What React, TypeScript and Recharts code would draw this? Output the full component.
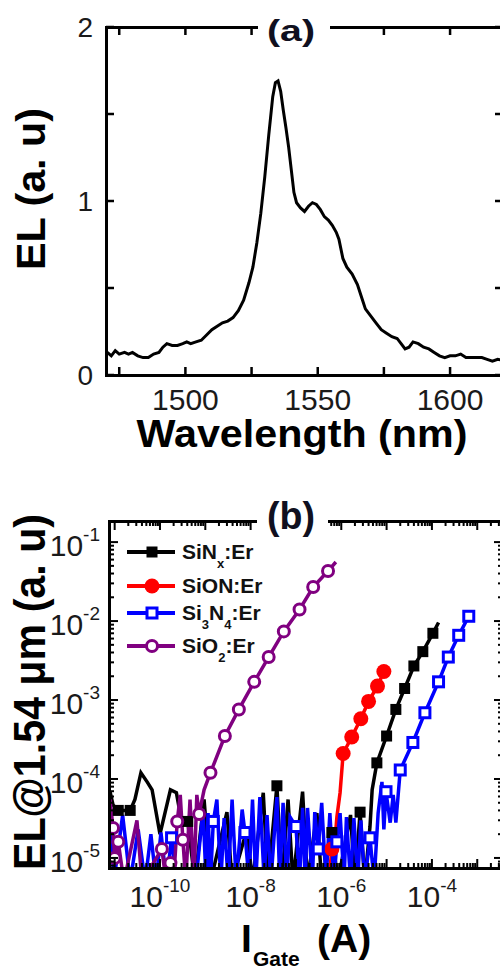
import React from 'react';
import { LineChart, Line, XAxis, YAxis, Legend } from 'recharts';

const FONT = "'Liberation Sans', Arial, Helvetica, sans-serif";
const INK = '#000';
const TICK_INK = '#1a1a1a';

// ---------- panel (a): EL spectrum ----------
const wavelengthNm = [
  1470.5, 1472, 1473.5, 1475, 1477, 1478.5, 1480, 1482, 1484, 1486, 1488, 1490, 1491.5, 1493, 1495, 1497, 1499,
  1500.5, 1502, 1504, 1506, 1508, 1510, 1512, 1514, 1516, 1518, 1520, 1522, 1524, 1525.5, 1527, 1528.5, 1530,
  1531.5, 1533, 1534, 1535, 1536, 1537, 1538, 1539, 1540, 1541, 1542, 1543.5, 1545, 1546.5, 1548, 1549.5, 1551,
  1552.5, 1554, 1555.5, 1557, 1558, 1559.5, 1561, 1563, 1565, 1566.5, 1568, 1570, 1572, 1574, 1576, 1578, 1580,
  1581.5, 1583, 1584.5, 1586, 1588, 1590, 1592, 1594, 1596, 1598, 1600, 1602, 1604, 1606, 1608, 1610, 1612, 1614,
  1616, 1618, 1620,
];
const elIntensity = [
  0.13, 0.11, 0.14, 0.12, 0.13, 0.12, 0.13, 0.11, 0.1, 0.1, 0.12, 0.13, 0.16, 0.18, 0.17, 0.17, 0.18,
  0.19, 0.18, 0.19, 0.2, 0.23, 0.26, 0.28, 0.3, 0.31, 0.33, 0.37, 0.43, 0.53, 0.62, 0.76, 0.93, 1.14,
  1.38, 1.6, 1.68, 1.69, 1.63, 1.52, 1.42, 1.31, 1.18, 1.05, 0.99, 0.96, 0.94, 0.97, 0.99, 0.98, 0.95,
  0.91, 0.89, 0.86, 0.82, 0.78, 0.67, 0.62, 0.58, 0.52, 0.45, 0.38, 0.34, 0.3, 0.26, 0.24, 0.22, 0.21,
  0.18, 0.15, 0.16, 0.19, 0.18, 0.16, 0.15, 0.13, 0.11, 0.1, 0.11, 0.11, 0.12, 0.1, 0.1, 0.1, 0.1, 0.09,
  0.08, 0.09, 0.085,
];
const specDomainX = [1470, 1620];
const specDomainY = [0, 2];
const specTicksX = [1475, 1500, 1525, 1550, 1575, 1600];
const specLabelsX = [1500, 1550, 1600];
const specTicksY = [0, 0.5, 1, 1.5, 2];
const specLabelsY = [0, 1, 2];

// ---------- panel (b): EL @ 1.54 um vs gate current ----------
type Pt = [number, number]; // [I_gate (A), EL (a.u.)]

const sinxMarks: Pt[] = [
  [1.2e-11, 4.0e-5], [2.2e-11, 4.0e-5], [4.1e-10, 2.9e-5], [3.8e-8, 8.2e-5], [6.2e-7, 2.1e-5], [2.6e-6, 3.8e-5],
  [6.1e-6, 1.6e-4], [1.0e-5, 3.5e-4], [1.6e-5, 7.6e-4], [2.5e-5, 1.4e-3], [4.0e-5, 2.7e-3], [6.3e-5, 4.1e-3],
  [1.05e-4, 7.0e-3],
];
const sinxNoise: Pt[] = [
  [7.9e-12, 6.9e-5], [9.2e-12, 4.7e-5], [2.8e-11, 5.5e-5], [3.8e-11, 1.2e-4], [5.2e-11, 9.2e-5], [6.7e-11, 7.3e-5],
  [1.0e-10, 2.0e-5], [1.7e-10, 7.3e-5], [2.3e-10, 6.7e-5], [3.1e-10, 2.6e-5], [5.9e-10, 5e-6], [9.4e-10, 5.5e-5],
  [1.3e-9, 5e-6], [3.0e-9, 3.8e-5], [3.9e-9, 5e-6], [8.3e-9, 2.3e-5], [1.1e-8, 5e-6], [1.9e-8, 6.7e-5],
  [2.4e-8, 5e-6], [4.9e-8, 5e-6], [6.7e-8, 5.5e-5], [8.6e-8, 5e-6], [1.4e-7, 6.9e-5], [1.8e-7, 5e-6],
  [2.9e-7, 3.7e-5], [3.7e-7, 5e-6], [8.4e-7, 5e-6], [1.6e-6, 3.5e-5], [2.0e-6, 5e-6], [3.3e-6, 5e-6],
  [4.3e-6, 2.5e-5], [4.8e-6, 7.3e-5], [1.4e-4, 9.6e-3],
];

const sionMarks: Pt[] = [
  [6.2e-7, 1.3e-5], [1.1e-6, 2.1e-4], [1.7e-6, 3.4e-4], [2.7e-6, 5.8e-4], [4.0e-6, 9.6e-4], [6.3e-6, 1.5e-3],
  [8.7e-6, 2.3e-3],
];
const sionNoise: Pt[] = [[5.3e-7, 5e-6], [7.2e-7, 1.55e-5], [8.0e-7, 3.3e-5], [9.4e-7, 6.7e-5]];

const si3n4Marks: Pt[] = [
  [1.8e-10, 1.8e-5], [1.5e-9, 2.9e-5], [7.5e-9, 2.1e-5], [1.0e-7, 2.5e-5], [3.1e-7, 1.3e-5], [8.0e-7, 1.6e-5],
  [4.3e-6, 1.8e-5], [9.7e-6, 6.9e-5], [2.0e-5, 1.3e-4], [3.8e-5, 2.9e-4], [7.0e-5, 6.9e-4], [1.4e-4, 1.7e-3],
  [2.3e-4, 3.5e-3], [3.9e-4, 6.6e-3], [6.5e-4, 1.15e-2],
];
const si3n4Noise: Pt[] = [
  [7.9e-12, 5.0e-5], [9.6e-12, 5e-6], [1.5e-11, 3.5e-5], [2.2e-11, 5e-6], [3.3e-11, 2.3e-5], [4.7e-11, 5e-6],
  [6.3e-11, 2.0e-5], [8.2e-11, 5e-6], [1.05e-10, 2.1e-5], [1.4e-10, 5e-6], [2.3e-10, 5e-6], [6.2e-10, 5e-6],
  [8.9e-10, 4.1e-5], [1.04e-9, 5e-6], [1.15e-9, 3.7e-5], [1.3e-9, 5e-6], [1.8e-9, 5.5e-5], [2.2e-9, 5e-6],
  [2.6e-9, 3.2e-5], [3.2e-9, 5e-6], [3.9e-9, 5.5e-5], [4.8e-9, 5e-6], [6.5e-9, 4.1e-5], [9.2e-9, 5e-6],
  [1.1e-8, 5.5e-5], [1.3e-8, 5e-6], [1.6e-8, 5.9e-5], [2.0e-8, 5e-6], [2.3e-8, 3.5e-5], [2.8e-8, 5e-6],
  [3.8e-8, 5.9e-5], [4.4e-8, 5e-6], [5.2e-8, 5.0e-5], [6.3e-8, 5e-6], [7.4e-8, 3.3e-5], [1.2e-7, 5e-6],
  [1.4e-7, 4.3e-5], [1.6e-7, 5e-6], [1.8e-7, 4.3e-5], [2.3e-7, 5e-6], [2.6e-7, 3.8e-5], [3.7e-7, 5.0e-5],
  [4.6e-7, 5e-6], [5.6e-7, 3.7e-5], [6.9e-7, 5e-6], [9.4e-7, 3.7e-5], [1.15e-6, 5e-6], [1.3e-6, 3.3e-5],
  [1.6e-6, 5e-6], [1.9e-6, 3.2e-5], [2.3e-6, 5e-6], [2.7e-6, 3.0e-5], [3.3e-6, 5e-6], [5.3e-6, 5e-6],
  [6.5e-6, 3.7e-5], [7.9e-6, 9.2e-5], [8.7e-6, 2.3e-5], [1.2e-5, 2.8e-5], [1.4e-5, 6.3e-5], [1.6e-5, 2.8e-5],
];

const sio2Marks: Pt[] = [
  [9.2e-12, 2.4e-5], [1.0e-11, 1.0e-5], [1.2e-11, 1.6e-5], [1.1e-10, 1.3e-5], [1.7e-10, 8.6e-6], [2.4e-10, 2.9e-5],
  [3.2e-10, 1.7e-5], [7.3e-10, 3.6e-5], [1.3e-9, 1.2e-4], [2.7e-9, 3.5e-4], [5.5e-9, 7.6e-4], [1.2e-8, 1.7e-3],
  [2.5e-8, 3.5e-3], [5.4e-8, 7.4e-3], [1.2e-7, 1.4e-2], [2.4e-7, 2.7e-2], [5.1e-7, 4.3e-2],
];
const sio2Noise: Pt[] = [
  [7.9e-12, 5.5e-5], [1.6e-11, 5e-6], [3.1e-11, 3.0e-5], [4.0e-11, 5e-6], [1.36e-10, 5e-6], [2.0e-10, 5e-6],
  [2.8e-10, 6.3e-5], [3.7e-10, 5e-6], [4.6e-10, 5.5e-5], [5.6e-10, 5e-6], [6.5e-10, 6.3e-5], [9.4e-10, 7.3e-5],
  [7.6e-7, 5.6e-2],
];

const currentDomain = [7.5e-12, 3.7e-3];
const elDomain = [7.46e-6, 0.185];
const currentDecades = [1e-11, 1e-10, 1e-9, 1e-8, 1e-7, 1e-6, 1e-5, 1e-4, 1e-3];
const elDecades = [1e-6, 1e-5, 1e-4, 1e-3, 1e-2, 1e-1];
const minorSteps = [2, 3, 4, 5, 6, 7, 8, 9];
const currentLabelExps = [-10, -8, -6, -4];
const elLabelExps = [-5, -4, -3, -2, -1];

const withMinors = (decades: number[], [lo, hi]: number[]) =>
  decades.flatMap(d => [d, ...minorSteps.map(m => m * d)]).filter(v => v >= lo && v <= hi);
const currentTicks = withMinors(currentDecades, currentDomain);
const elTicks = withMinors(elDecades, elDomain);

const toRows = (pts: Pt[]) => pts.map(([i, el]) => ({ i, el }));
const traceOf = (noise: Pt[], marks: Pt[]) => toRows([...noise, ...marks].sort((a, b) => a[0] - b[0]));

type MarkerKind = 'filledSquare' | 'filledCircle' | 'openSquare' | 'openCircle';
const series = [
  { name: 'SiN_x:Er', color: '#000000', marker: 'filledSquare' as MarkerKind, trace: traceOf(sinxNoise, sinxMarks), marks: toRows(sinxMarks) },
  { name: 'SiON:Er', color: '#ff0000', marker: 'filledCircle' as MarkerKind, trace: traceOf(sionNoise, sionMarks), marks: toRows(sionMarks) },
  { name: 'Si_3N_4:Er', color: '#0000ff', marker: 'openSquare' as MarkerKind, trace: traceOf(si3n4Noise, si3n4Marks), marks: toRows(si3n4Marks) },
  { name: 'SiO_2:Er', color: '#800080', marker: 'openCircle' as MarkerKind, trace: traceOf(sio2Noise, sio2Marks), marks: toRows(sio2Marks) },
];

const spectrum = wavelengthNm.map((wl, k) => ({ wl, el: elIntensity[k] }));

// chart boxes: the same numbers feed the chart margins/axis sizes and the frame
const specLayout = { width: 520, height: 470, top: 27, left: 106, right: 17, bottom: 95 };
const gateLayout = { width: 520, height: 490, top: 41, left: 109, right: 17, bottom: 102 };

// ---------- drawing helpers ----------
const Marker = ({ kind, color, cx, cy }: { kind: MarkerKind; color: string; cx: number; cy: number }) => {
  if (kind === 'filledSquare') return <rect x={cx - 5.5} y={cy - 5.5} width={11} height={11} fill={color} />;
  if (kind === 'filledCircle') return <circle cx={cx} cy={cy} r={7.5} fill={color} />;
  if (kind === 'openSquare')
    return <rect x={cx - 5} y={cy - 5} width={10} height={10} fill="#fff" stroke={color} strokeWidth={3} />;
  return <circle cx={cx} cy={cy} r={5.5} fill="#fff" stroke={color} strokeWidth={3} />;
};

const VBar = ({ x, y1, y2, w }: { x: number; y1: number; y2: number; w: number }) => (
  <rect x={x - w / 2} y={Math.min(y1, y2)} width={w} height={Math.abs(y2 - y1)} fill={INK} />
);
const HBar = ({ y, x1, x2, w }: { y: number; x1: number; x2: number; w: number }) => (
  <rect x={Math.min(x1, x2)} y={y - w / 2} width={Math.abs(x2 - x1)} height={w} fill={INK} />
);

const isDecade = (v: number) => Math.abs(Math.log10(v) - Math.round(Math.log10(v))) < 1e-6;

const PowerLabel = ({ x, y, exp, anchor }: { x: number; y: number; exp: number; anchor: 'middle' | 'end' }) => (
  <text x={x} y={y} textAnchor={anchor} fontFamily={FONT} fontSize={30} fill={TICK_INK}>
    10<tspan dy={-15} fontSize={19}>{exp}</tspan>
  </text>
);

const tagA = { text: '(a)', gapX: 258, gapW: 72, cx: 291, baseline: 41, size: 30, len: 48 };
const tagB = { text: '(b)', gapX: 257, gapW: 71, cx: 291, baseline: 49, size: 38, len: 48 };
const inGap = (x: number, tag: typeof tagA) => x > tag.gapX && x < tag.gapX + tag.gapW;

// frame as four solid bars (top one split around the panel letter), laid over the chart
const FRAME = 3;
const bar = (left: number, top: number, width: number, height: number, key: string) => (
  <div key={key} style={{ position: 'absolute', left, top, width, height, background: INK }} />
);
const FrameOverlay = ({ layout, tag }: { layout: typeof specLayout; tag: typeof tagA }) => {
  const x0 = layout.left;
  const y0 = layout.top;
  const x1 = layout.width - layout.right;
  const y1 = layout.height - layout.bottom;
  const h = FRAME / 2;
  return (
    <div style={{ position: 'absolute', left: 0, top: 0, width: layout.width, height: layout.height, pointerEvents: 'none', zIndex: 5 }}>
      {bar(x0 - h, y1 - h, x1 - x0 + FRAME, FRAME, 'b')}
      {bar(x0 - h, y0 - h, FRAME, y1 - y0 + FRAME, 'l')}
      {bar(x1 - h, y0 - h, FRAME, y1 - y0 + FRAME, 'r')}
      {bar(x0 - h, y0 - h, tag.gapX - x0 + h, FRAME, 't1')}
      {bar(tag.gapX + tag.gapW, y0 - h, x1 + h - tag.gapX - tag.gapW, FRAME, 't2')}
      <svg width={layout.width} height={layout.height} style={{ position: 'absolute', left: 0, top: 0 }}>
        <text x={tag.cx} y={tag.baseline} textAnchor="middle" fontFamily={FONT} fontWeight="bold" fontSize={tag.size}
          textLength={tag.len} lengthAdjust="spacingAndGlyphs" fill="#101020">
          {tag.text}
        </text>
      </svg>
    </div>
  );
};

// panel (a) ticks, all pointing into the frame
const specBottomTick = (p: any) => (
  <g>
    <VBar x={p.x} y1={p.y} y2={p.y - 8} w={2.5} />
    {specLabelsX.includes(p.payload.value) && (
      <text x={p.x} y={p.y + 35} textAnchor="middle" fontFamily={FONT} fontSize={30} fill={TICK_INK}>
        {p.payload.value}
      </text>
    )}
  </g>
);
const specTopTick = (p: any) => (inGap(p.x, tagA) ? <g /> : <VBar x={p.x} y1={p.y} y2={p.y + 8} w={2.5} />);
const specLeftTick = (p: any) => (
  <g>
    <HBar y={p.y} x1={p.x} x2={p.x + 8} w={2.5} />
    {specLabelsY.includes(p.payload.value) && (
      <text x={p.x - 13} y={p.y + 10} textAnchor="end" fontFamily={FONT} fontSize={28} fill={TICK_INK}>
        {p.payload.value}
      </text>
    )}
  </g>
);
const specRightTick = (p: any) => <HBar y={p.y} x1={p.x} x2={p.x - 8} w={2.5} />;

// panel (b) log ticks
const tickLen = (v: number) => (isDecade(v) ? 9 : 5);
const currentBottomTick = (p: any) => {
  const v = p.payload.value;
  const e = Math.round(Math.log10(v));
  return (
    <g>
      <VBar x={p.x} y1={p.y} y2={p.y - tickLen(v)} w={2} />
      {isDecade(v) && currentLabelExps.includes(e) && <PowerLabel x={p.x} y={p.y + 39} exp={e} anchor="middle" />}
    </g>
  );
};
const currentTopTick = (p: any) =>
  inGap(p.x, tagB) ? <g /> : <VBar x={p.x} y1={p.y} y2={p.y + tickLen(p.payload.value)} w={2} />;
const elLeftTick = (p: any) => {
  const v = p.payload.value;
  const e = Math.round(Math.log10(v));
  return (
    <g>
      <HBar y={p.y} x1={p.x} x2={p.x + tickLen(v)} w={2} />
      {isDecade(v) && elLabelExps.includes(e) && <PowerLabel x={p.x - 9} y={p.y + 14} exp={e} anchor="end" />}
    </g>
  );
};
const elRightTick = (p: any) => <HBar y={p.y} x1={p.x} x2={p.x - tickLen(p.payload.value)} w={2} />;

const renderName = (name: string) =>
  name.split(/(_.)/).map((part, k) =>
    part.startsWith('_') ? (
      <span key={k} style={{ fontSize: 13, verticalAlign: -9 }}>{part.slice(1)}</span>
    ) : (
      <span key={k}>{part}</span>
    ),
  );

const legendRowsY = [72, 106, 133, 166];
const LegendBox = () => (
  <div style={{ position: 'relative' }}>
    {series.map((s, k) => (
      <div key={s.name} style={{ position: 'absolute', left: 127, top: legendRowsY[k] - 10, display: 'flex', alignItems: 'flex-start', whiteSpace: 'nowrap' }}>
        <svg width={48} height={20} style={{ display: 'block', flex: 'none' }}>
          <line x1={0} x2={48} y1={10} y2={10} stroke={s.color} strokeWidth={4} />
          <Marker kind={s.marker} color={s.color} cx={25} cy={10} />
        </svg>
        <span style={{ marginLeft: 7, fontFamily: FONT, fontWeight: 'bold', fontSize: 21, lineHeight: '20px', color: '#111' }}>
          {renderName(s.name)}
        </span>
      </div>
    ))}
  </div>
);

const bare = { axisLine: false, tickLine: false, tickSize: 0, tickMargin: 0, interval: 0 as const, allowDataOverflow: true };

const SpectrumPanel = () => (
  <div style={{ position: 'relative', width: specLayout.width, height: specLayout.height }}>
    <LineChart width={specLayout.width} height={specLayout.height} data={spectrum}
      margin={{ top: specLayout.top - 1, right: 0, bottom: 0, left: 0 }}>
      <XAxis xAxisId="bottom" dataKey="wl" type="number" domain={specDomainX} ticks={specTicksX} {...bare}
        height={specLayout.bottom} tick={specBottomTick}
        label={{
          content: () => (
            <text x={302} y={447} textAnchor="middle" fontFamily={FONT} fontWeight="bold" fontSize={38}
              textLength={331} lengthAdjust="spacingAndGlyphs" fill={INK}>Wavelength (nm)</text>
          ),
        }} />
      <XAxis xAxisId="top" orientation="top" dataKey="wl" type="number" domain={specDomainX} ticks={specTicksX}
        {...bare} height={1} tick={specTopTick} />
      <YAxis yAxisId="left" type="number" domain={specDomainY} ticks={specTicksY} {...bare} width={specLayout.left}
        tick={specLeftTick}
        label={{
          content: () => (
            <text transform="translate(45,189) rotate(-90)" textAnchor="middle" fontFamily={FONT} fontWeight="bold"
              fontSize={40} textLength={162} lengthAdjust="spacingAndGlyphs" fill={INK}>EL (a. u)</text>
          ),
        }} />
      <YAxis yAxisId="right" orientation="right" type="number" domain={specDomainY} ticks={specTicksY} {...bare}
        width={specLayout.right} tick={specRightTick} />
      <Line xAxisId="bottom" yAxisId="left" type="linear" dataKey="el" stroke={INK} strokeWidth={3} dot={false}
        isAnimationActive={false} />
    </LineChart>
    <FrameOverlay layout={specLayout} tag={tagA} />
  </div>
);

const GatePanel = () => (
  <div style={{ position: 'relative', width: gateLayout.width, height: gateLayout.height }}>
    <LineChart width={gateLayout.width} height={gateLayout.height}
      margin={{ top: gateLayout.top - 1, right: 0, bottom: 0, left: 0 }}>
      <XAxis xAxisId="bottom" dataKey="i" type="number" scale="log" domain={currentDomain} ticks={currentTicks}
        {...bare} height={gateLayout.bottom} tick={currentBottomTick}
        label={{
          content: () => (
            <text fontFamily={FONT} fontWeight="bold" fill={INK}>
              <tspan x={241} y={472} fontSize={39}>I</tspan>
              <tspan x={253} y={486} fontSize={21}>Gate</tspan>
              <tspan x={317} y={472} fontSize={39}>(A)</tspan>
            </text>
          ),
        }} />
      <XAxis xAxisId="top" orientation="top" dataKey="i" type="number" scale="log" domain={currentDomain}
        ticks={currentTicks} {...bare} height={1} tick={currentTopTick} />
      <YAxis yAxisId="left" dataKey="el" type="number" scale="log" domain={elDomain} ticks={elTicks} {...bare}
        width={gateLayout.left} tick={elLeftTick}
        label={{
          content: () => (
            <text transform="translate(45,212) rotate(-90)" textAnchor="middle" fontFamily={FONT} fontWeight="bold"
              fontSize={44} textLength={356} lengthAdjust="spacingAndGlyphs" fill={INK}>EL@1.54 μm (a. u)</text>
          ),
        }} />
      <YAxis yAxisId="right" orientation="right" dataKey="el" type="number" scale="log" domain={elDomain}
        ticks={elTicks} {...bare} width={gateLayout.right} tick={elRightTick} />
      {series.map(s => (
        <Line key={s.name + '-trace'} xAxisId="bottom" yAxisId="left" data={s.trace} dataKey="el" type="linear"
          stroke={s.color} strokeWidth={3.5} dot={false} legendType="none" isAnimationActive={false} />
      ))}
      {series.map(s => (
        <Line key={s.name + '-marks'} xAxisId="bottom" yAxisId="left" data={s.marks} dataKey="el" type="linear"
          stroke="none" strokeWidth={0} legendType="none" isAnimationActive={false}
          dot={(p: any) => <Marker key={`${s.name}-${p.index}`} kind={s.marker} color={s.color} cx={p.cx} cy={p.cy} />} />
      ))}
      <Legend layout="vertical" align="center" verticalAlign="middle" content={() => <LegendBox />}
        wrapperStyle={{ left: 0, top: 0, width: 520, height: 0, margin: 0 }} />
    </LineChart>
    <FrameOverlay layout={gateLayout} tag={tagB} />
  </div>
);

export default function App() {
  return (
    <div style={{ position: 'absolute', left: 0, top: 0, width: 500, height: 970, overflow: 'hidden', background: '#fff' }}>
      <div style={{ position: 'absolute', left: 0, top: 0 }}>
        <SpectrumPanel />
      </div>
      <div style={{ position: 'absolute', left: 0, top: 480 }}>
        <GatePanel />
      </div>
    </div>
  );
}
